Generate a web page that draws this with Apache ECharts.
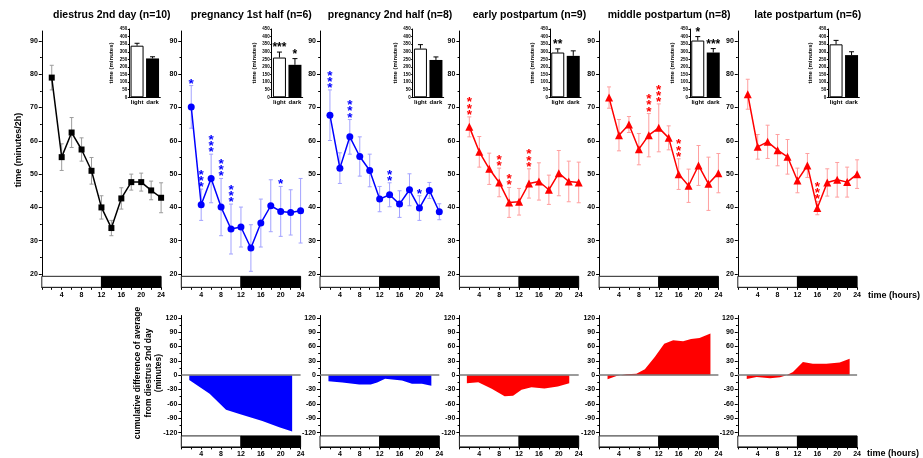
<!DOCTYPE html>
<html>
<head>
<meta charset="utf-8">
<script src="https://cdn.jsdelivr.net/npm/echarts@6/dist/echarts.min.js"></script>
<style>
  html, body { margin: 0; padding: 0; background: #fff; }
  #chart { width: 923px; height: 458px; }
</style>
</head>
<body>
<div id="chart"></div>
<script>
// ---------------- data ----------------
const hours = [2, 4, 6, 8, 10, 12, 14, 16, 18, 20, 22, 24];
const hourTicks = [4, 8, 12, 16, 20, 24];
const minuteTicks = [20, 30, 40, 50, 60, 70, 80, 90];
const cumulativeTicks = [-120, -90, -60, -30, 0, 30, 60, 90, 120];
const phaseCategories = ['light', 'dark'];

const groupTitles = [
  'diestrus 2nd day (n=10)',
  'pregnancy 1st half (n=6)',
  'pregnancy 2nd half (n=8)',
  'early postpartum (n=9)',
  'middle postpartum (n=8)',
  'late postpartum (n=6)'
];

// time spent per 2 h bin (minutes), mean and SEM; stars = significance level per bin
const diestrusMean  = [79.0, 55.1, 62.5, 57.4, 51.0, 40.0, 33.8, 42.7, 47.6, 47.6, 45.1, 42.9];
const diestrusSem   = [3.7, 4.0, 4.5, 3.5, 4.0, 3.5, 2.3, 3.2, 2.4, 2.7, 2.8, 4.5];
const diestrusStars = [0, 0, 0, 0, 0, 0, 0, 0, 0, 0, 0, 0];

const preg1Mean  = [70.2, 40.8, 48.7, 40.1, 33.5, 34.1, 27.8, 35.3, 40.5, 38.8, 38.5, 39.0];
const preg1Sem   = [6.4, 4.7, 7.3, 8.6, 7.5, 6.0, 7.0, 7.2, 7.8, 7.5, 6.8, 9.7];
const preg1Stars = [1, 3, 3, 3, 3, 0, 0, 0, 0, 1, 0, 0];

const preg2Mean  = [67.7, 51.8, 61.2, 55.3, 51.1, 42.5, 43.8, 41.0, 45.3, 39.8, 45.1, 38.7];
const preg2Sem   = [7.6, 4.6, 5.2, 5.9, 4.9, 3.8, 3.6, 4.0, 4.8, 3.7, 2.4, 2.4];
const preg2Stars = [3, 0, 3, 0, 0, 0, 2, 0, 0, 1, 0, 0];

const earlyMean  = [64.2, 56.7, 51.6, 47.5, 41.5, 41.7, 47.2, 47.8, 45.3, 50.3, 47.8, 47.5];
const earlySem   = [3.0, 4.6, 4.7, 4.3, 4.5, 4.0, 4.4, 5.6, 4.4, 6.8, 6.1, 6.1];
const earlyStars = [3, 0, 0, 2, 2, 0, 3, 0, 0, 0, 0, 0];

const middleMean  = [73.0, 61.7, 64.9, 57.5, 61.7, 63.9, 60.9, 50.0, 46.5, 52.6, 47.1, 50.3];
const middleSem   = [3.2, 4.7, 2.4, 4.7, 6.5, 7.2, 3.6, 4.6, 5.0, 6.0, 8.0, 5.9];
const middleStars = [0, 0, 0, 0, 3, 3, 0, 3, 0, 0, 0, 0];

const lateMean  = [74.0, 58.2, 59.7, 57.2, 55.2, 48.1, 52.6, 39.8, 47.5, 48.3, 47.6, 50.0];
const lateSem   = [4.5, 3.7, 5.0, 4.7, 5.2, 3.7, 3.6, 2.0, 4.1, 5.2, 4.5, 4.3];
const lateStars = [0, 0, 0, 0, 0, 0, 0, 3, 0, 0, 0, 0];

// total time in light / dark phase (minutes)
const diestrusTotal = [340, 256], diestrusTotalSem = [16, 11], diestrusTotalStars = ['', ''];
const preg1Total    = [262, 214], preg1TotalSem    = [36, 41], preg1TotalStars    = ['***', '*'];
const preg2Total    = [321, 246], preg2TotalSem    = [26, 20], preg2TotalStars    = ['', ''];
const earlyTotal    = [295, 273], earlyTotalSem    = [24, 33], earlyTotalStars    = ['**', ''];
const middleTotal   = [374, 295], middleTotalSem   = [26, 26], middleTotalStars   = ['*', '***'];
const lateTotal     = [349, 278], lateTotalSem     = [26, 22], lateTotalStars     = ['', ''];

// cumulative difference of average from diestrus 2nd day (hour, minutes)
const preg1CumHours  = [1.6, 5.7, 9.0, 11.7, 16.3, 19.7, 22.3];
const preg1CumDiff   = [-10, -38.6, -72, -81, -96, -109, -118];
const preg2CumHours  = [1.7, 4.5, 7.9, 10.2, 11.5, 13.1, 16.5, 18.5, 20.5, 22.4];
const preg2CumDiff   = [-12.5, -15.3, -19.4, -19.4, -15, -7.6, -11, -18, -18, -22];
const earlyCumHours  = [1.5, 3.8, 6.5, 9.1, 10.8, 12.5, 14.5, 17.1, 19.8, 22.1];
const earlyCumDiff   = [-16.7, -14.6, -28.5, -44, -43, -30.5, -25, -28, -23.6, -16.7];
const middleCumHours = [1.7, 3.5, 5.5, 7.5, 9.2, 11.2, 13.1, 14.9, 16.9, 18.5, 20.2, 22.4];
const middleCumDiff  = [-8.5, -1.4, 2, 3, 12.7, 38, 66, 73, 71, 76, 78, 87.5];
const lateCumHours   = [1.8, 3.8, 6.5, 8.5, 9.8, 11.1, 13.1, 15.1, 17.8, 20.5, 22.5];
const lateCumDiff    = [-7.8, -3.5, -6.4, -4.2, 0, 7, 27.5, 24, 24, 26.8, 34.6];

// ---------------- assembly ----------------
const groups = [
  { mean: diestrusMean, sem: diestrusSem, stars: diestrusStars, total: diestrusTotal, totalSem: diestrusTotalSem, totalStars: diestrusTotalStars, cumH: null, cumD: null },
  { mean: preg1Mean, sem: preg1Sem, stars: preg1Stars, total: preg1Total, totalSem: preg1TotalSem, totalStars: preg1TotalStars, cumH: preg1CumHours, cumD: preg1CumDiff },
  { mean: preg2Mean, sem: preg2Sem, stars: preg2Stars, total: preg2Total, totalSem: preg2TotalSem, totalStars: preg2TotalStars, cumH: preg2CumHours, cumD: preg2CumDiff },
  { mean: earlyMean, sem: earlySem, stars: earlyStars, total: earlyTotal, totalSem: earlyTotalSem, totalStars: earlyTotalStars, cumH: earlyCumHours, cumD: earlyCumDiff },
  { mean: middleMean, sem: middleSem, stars: middleStars, total: middleTotal, totalSem: middleTotalSem, totalStars: middleTotalStars, cumH: middleCumHours, cumD: middleCumDiff },
  { mean: lateMean, sem: lateSem, stars: lateStars, total: lateTotal, totalSem: lateTotalSem, totalStars: lateTotalStars, cumH: lateCumHours, cumD: lateCumDiff }
];

// ---------------- layout & style ----------------
const FONT = '"Liberation Sans", Arial, sans-serif';
const panelLeft = [41.8, 181.3, 320, 459.4, 599.1, 737.8];
const panelWidth = 119.3;
const insetLeft = [129.3, 271.7, 412.7, 550, 690, 828.3];
const lineColor = ['#000000', '#0000ff', '#0000ff', '#ff0000', '#ff0000', '#ff0000'];
const errColor  = ['#9c9c9c', '#a3a3ff', '#a3a3ff', '#ff9f9f', '#ff9f9f', '#ff9f9f'];
const markShape = ['rect', 'circle', 'circle', 'triangle', 'triangle', 'triangle'];
const markSize  = [6, 7, 7, 8, 8, 8];

const TOP = { top: 31, height: 256.3, min: 16, max: 93, band: [16, 19.3] };
const BOT = { top: 315.5, height: 131.4, min: -150, max: 125, band: [-150, -127] };
const INSET = { top: 29, height: 68.3, width: 31 };

const grids = [], xAxes = [], yAxes = [], series = [], graphics = [];

function range(a, b, s) { const r = []; for (let v = a; v <= b + 1e-9; v += s) r.push(v); return r; }

function hourAxis(grid, labelMargin) {
  return {
    type: 'value', gridIndex: grid, min: 0, max: 24, interval: 2,
    axisLine: { show: true, onZero: false, lineStyle: { color: '#000', width: 1 } },
    axisTick: { show: true, length: 2.5, lineStyle: { color: '#000' } },
    axisLabel: { customValues: hourTicks, fontSize: 7, fontWeight: 'bold', color: '#000', fontFamily: FONT, margin: labelMargin },
    splitLine: { show: false }
  };
}
function valueAxis(grid, min, max, major, minor) {
  yAxes.push({
    type: 'value', gridIndex: grid, min: min, max: max, position: 'left',
    axisLine: { show: true, lineStyle: { color: '#000', width: 1 } },
    axisTick: { show: true, length: 3, customValues: major, lineStyle: { color: '#000' } },
    axisLabel: { customValues: major, fontSize: 7, fontWeight: 'bold', color: '#000', fontFamily: FONT, margin: 4 },
    splitLine: { show: false }
  });
  const idx = yAxes.length - 1;
  yAxes.push({
    type: 'value', gridIndex: grid, min: min, max: max, position: 'left', offset: 0,
    axisLine: { show: false },
    axisTick: { show: true, length: 1.8, customValues: minor, lineStyle: { color: '#000' } },
    axisLabel: { show: false },
    splitLine: { show: false }
  });
  return idx;
}
function phaseBand(band) {
  return {
    silent: true,
    data: [
      [{ xAxis: 0, yAxis: band[0], itemStyle: { color: '#ffffff', borderColor: '#222', borderWidth: 1 } }, { xAxis: 12, yAxis: band[1] }],
      [{ xAxis: 12, yAxis: band[0], itemStyle: { color: '#000000', borderColor: '#000', borderWidth: 1 } }, { xAxis: 24, yAxis: band[1] }]
    ]
  };
}

function errRender(color) {
  return function (params, api) {
    const x = api.value(0), m = api.value(1), e = api.value(2);
    const t = api.coord([x, m + e]), b = api.coord([x, m - e]);
    const hw = 2, st = { stroke: color, lineWidth: 1 };
    return { type: 'group', children: [
      { type: 'line', shape: { x1: t[0], y1: t[1], x2: b[0], y2: b[1] }, style: st },
      { type: 'line', shape: { x1: t[0] - hw, y1: t[1], x2: t[0] + hw, y2: t[1] }, style: st },
      { type: 'line', shape: { x1: b[0] - hw, y1: b[1], x2: b[0] + hw, y2: b[1] }, style: st }
    ] };
  };
}
function starRender(color) {
  return function (params, api) {
    const n = api.value(2);
    const p = api.coord([api.value(0), api.value(1)]);
    const children = [];
    for (let k = 0; k < n; k++) {
      children.push({ type: 'text', style: {
        text: '*', x: p[0], y: p[1] - 5 - 6.2 * k + 3.3,
        align: 'center', verticalAlign: 'middle', textAlign: 'center', textVerticalAlign: 'middle',
        font: 'bold 13.5px ' + FONT, fill: color } });
    }
    return { type: 'group', children: children };
  };
}
function totalErrRender(params, api) {
  const c = api.value(0), m = api.value(1), e = api.value(2);
  const b = api.coord([c, m]), t = api.coord([c, m + e]);
  const st = { stroke: '#000', lineWidth: 1 };
  return { type: 'group', children: [
    { type: 'line', shape: { x1: t[0], y1: t[1], x2: b[0], y2: b[1] }, style: st },
    { type: 'line', shape: { x1: t[0] - 2.5, y1: t[1], x2: t[0] + 2.5, y2: t[1] }, style: st }
  ] };
}
function totalStarRender(labels) {
  return function (params, api) {
    const c = api.value(0), top = api.value(1) + api.value(2);
    const p = api.coord([c, top]);
    return { type: 'text', style: {
      text: labels[params.dataIndex], x: p[0], y: p[1] - 7 + 3,
      align: 'center', verticalAlign: 'middle', textAlign: 'center', textVerticalAlign: 'middle',
      font: 'bold 12px ' + FONT, fill: '#000' } };
  };
}

groups.forEach(function (g, i) {
  const L = panelLeft[i];

  // ---- hourly profile ----
  grids.push({ left: L, top: TOP.top, width: panelWidth, height: TOP.height, outerBoundsMode: 'none' });
  const gTop = grids.length - 1;
  xAxes.push(hourAxis(gTop, 4.5));
  const xTop = xAxes.length - 1;
  const yTop = valueAxis(gTop, TOP.min, TOP.max, minuteTicks, range(25, 85, 10));

  series.push({
    type: 'custom', xAxisIndex: xTop, yAxisIndex: yTop, z: 1, silent: true,
    renderItem: errRender(errColor[i]),
    data: hours.map(function (h, j) { return [h, g.mean[j], g.sem[j]]; })
  });
  series.push({
    type: 'line', xAxisIndex: xTop, yAxisIndex: yTop, z: 3,
    data: hours.map(function (h, j) { return [h, g.mean[j]]; }),
    symbol: markShape[i], symbolSize: markSize[i], showSymbol: true,
    lineStyle: { color: lineColor[i], width: 1.5 },
    itemStyle: { color: lineColor[i], borderWidth: 0 },
    markArea: phaseBand(TOP.band)
  });
  const starData = [];
  hours.forEach(function (h, j) { if (g.stars[j] > 0) starData.push([h, g.mean[j] + g.sem[j], g.stars[j]]); });
  if (starData.length) {
    series.push({ type: 'custom', xAxisIndex: xTop, yAxisIndex: yTop, z: 4, silent: true,
      renderItem: starRender(lineColor[i]), data: starData });
  }

  // ---- light / dark totals ----
  grids.push({ left: insetLeft[i], top: INSET.top, width: INSET.width, height: INSET.height, outerBoundsMode: 'none' });
  const gIn = grids.length - 1;
  xAxes.push({
    type: 'category', gridIndex: gIn, data: phaseCategories,
    axisLine: { show: true, lineStyle: { color: '#000', width: 1 } },
    axisTick: { show: false },
    axisLabel: { interval: 0, hideOverlap: false, fontSize: 6, fontWeight: 'bold', color: '#000', fontFamily: FONT, margin: 2.5 }
  });
  const xIn = xAxes.length - 1;
  yAxes.push({
    type: 'value', gridIndex: gIn, min: 0, max: 450, interval: 50,
    axisLine: { show: true, lineStyle: { color: '#000', width: 1 } },
    axisTick: { show: true, length: 1.5, lineStyle: { color: '#000' } },
    axisLabel: { fontSize: 4.5, fontWeight: 'bold', color: '#000', fontFamily: FONT, margin: 2 },
    splitLine: { show: false }
  });
  const yIn = yAxes.length - 1;
  series.push({
    type: 'bar', xAxisIndex: xIn, yAxisIndex: yIn, barWidth: 13, z: 2,
    data: g.total.map(function (v, k) {
      return { value: v, itemStyle: k === 0 ? { color: '#fff', borderColor: '#000', borderWidth: 1 } : { color: '#000' } };
    })
  });
  series.push({ type: 'custom', xAxisIndex: xIn, yAxisIndex: yIn, z: 3, silent: true,
    renderItem: totalErrRender,
    data: g.total.map(function (v, k) { return [k, v, g.totalSem[k]]; }) });
  if (g.totalStars.some(function (s) { return s; })) {
    series.push({ type: 'custom', xAxisIndex: xIn, yAxisIndex: yIn, z: 4, silent: true,
      renderItem: totalStarRender(g.totalStars),
      data: g.total.map(function (v, k) { return [k, v, g.totalSem[k]]; }) });
  }
  graphics.push({ type: 'text', x: insetLeft[i] - 17.6, y: 63, rotation: Math.PI / 2, silent: true,
    style: { text: 'time (minutes)', font: 'bold 6px ' + FONT, fill: '#000',
      align: 'center', verticalAlign: 'middle', textAlign: 'center', textVerticalAlign: 'middle' } });

  // ---- cumulative difference ----
  if (g.cumH) {
    grids.push({ left: L, top: BOT.top, width: panelWidth, height: BOT.height, outerBoundsMode: 'none' });
    const gB = grids.length - 1;
    xAxes.push(hourAxis(gB, 3.8));
    const xB = xAxes.length - 1;
    const yB = valueAxis(gB, BOT.min, BOT.max, cumulativeTicks, range(-105, 105, 30));
    series.push({
      type: 'line', xAxisIndex: xB, yAxisIndex: yB, z: 2,
      data: g.cumH.map(function (h, j) { return [h, g.cumD[j]]; }),
      symbol: 'none', lineStyle: { width: 0, color: lineColor[i] },
      areaStyle: { color: lineColor[i], opacity: 1 },
      markLine: { silent: true, symbol: ['none', 'none'], label: { show: false },
        lineStyle: { color: '#7a7a7a', width: 1.5, type: 'solid' }, data: [{ yAxis: 0 }] },
      markArea: phaseBand(BOT.band)
    });
  }

  // ---- title ----
  graphics.push({ type: 'text', x: L + 70, y: 15, silent: true,
    style: { text: groupTitles[i], font: 'bold 10.5px ' + FONT, fill: '#000',
      align: 'center', verticalAlign: 'middle', textAlign: 'center', textVerticalAlign: 'middle' } });
});

// axis titles
graphics.push({ type: 'text', x: 18.5, y: 150, rotation: Math.PI / 2, silent: true,
  style: { text: 'time (minutes/2h)', font: 'bold 9px ' + FONT, fill: '#000',
    align: 'center', verticalAlign: 'middle', textAlign: 'center', textVerticalAlign: 'middle' } });
graphics.push({ type: 'text', x: 148.5, y: 373, rotation: Math.PI / 2, silent: true,
  style: { text: 'cumulative difference of average\nfrom diestrus 2nd day\n(minutes)', font: 'bold 8.5px ' + FONT,
    lineHeight: 10.5, fill: '#000', align: 'center', verticalAlign: 'middle', textAlign: 'center', textVerticalAlign: 'middle' } });
graphics.push({ type: 'text', x: 868, y: 295.5, silent: true,
  style: { text: 'time (hours)', font: 'bold 9px ' + FONT, fill: '#000',
    align: 'left', verticalAlign: 'middle', textAlign: 'left', textVerticalAlign: 'middle' } });
graphics.push({ type: 'text', x: 867, y: 453.5, silent: true,
  style: { text: 'time (hours)', font: 'bold 9px ' + FONT, fill: '#000',
    align: 'left', verticalAlign: 'middle', textAlign: 'left', textVerticalAlign: 'middle' } });

const chart = echarts.init(document.getElementById('chart'), null, { renderer: 'canvas' });
chart.setOption({
  animation: false,
  backgroundColor: '#ffffff',
  textStyle: { fontFamily: FONT },
  grid: grids,
  xAxis: xAxes,
  yAxis: yAxes,
  series: series,
  graphic: graphics
});
</script>
</body>
</html>
